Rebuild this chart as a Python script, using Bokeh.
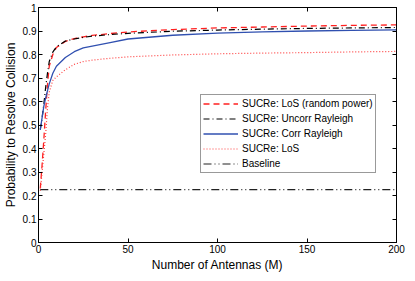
from bokeh.plotting import figure
from bokeh.models import LinearAxis, FixedTicker, Range1d, Legend, LegendItem
from bokeh.embed import file_html
from bokeh.resources import INLINE

# ---- data ----
M = [1, 2, 3, 4, 5, 6, 8, 10, 15, 20, 25, 30, 40, 50, 75, 100, 125, 150, 175, 200]
los_random_power = [0.23, 0.33, 0.44, 0.56, 0.67, 0.75, 0.80, 0.83, 0.856, 0.868, 0.875, 0.881,
                    0.889, 0.896, 0.906, 0.913, 0.917, 0.921, 0.924, 0.926]
uncorr_rayleigh = [0.48, 0.53, 0.59, 0.66, 0.72, 0.77, 0.81, 0.833, 0.857, 0.866, 0.873, 0.878,
                   0.885, 0.890, 0.899, 0.904, 0.908, 0.911, 0.913, 0.915]
corr_rayleigh = [0.48, 0.53, 0.58, 0.615, 0.645, 0.675, 0.72, 0.75, 0.787, 0.812, 0.828, 0.836,
                 0.851, 0.866, 0.882, 0.891, 0.896, 0.900, 0.903, 0.905]
los = [0.22, 0.30, 0.38, 0.46, 0.57, 0.64, 0.69, 0.705, 0.735, 0.758, 0.77, 0.776,
       0.784, 0.79, 0.798, 0.803, 0.806, 0.808, 0.811, 0.813]
baseline_value = 0.225
baseline = [baseline_value for _ in M]

series_names = ["SUCRe: LoS (random power)", "SUCRe: Uncorr Rayleigh", "SUCRe: Corr Rayleigh",
                "SUCRe: LoS", "Baseline"]
x_ticks = [0, 50, 100, 150, 200]
y_ticks = [0, 0.1, 0.2, 0.3, 0.4, 0.5, 0.6, 0.7, 0.8, 0.9, 1.0]
y_tick_labels = ["0", "0.1", "0.2", "0.3", "0.4", "0.5", "0.6", "0.7", "0.8", "0.9", "1"]

FONT = "Liberation Sans"

p = figure(frame_width=358, frame_height=235, output_backend="svg", toolbar_location=None,
           x_range=Range1d(0, 200), y_range=Range1d(0, 1),
           min_border_left=0, min_border_right=12, min_border_top=7, min_border_bottom=0)
p.grid.visible = False
p.outline_line_color = "black"
p.outline_line_width = 1
p.background_fill_color = "white"
p.border_fill_color = "white"

def style_axis(ax, labels=True):
    ax.major_tick_in = 4
    ax.major_tick_out = 0
    ax.minor_tick_line_color = None
    ax.axis_line_color = "black"
    ax.major_tick_line_color = "black"
    ax.major_label_text_font = FONT
    ax.axis_label_text_font = FONT
    ax.axis_label_text_font_style = "normal"
    ax.axis_label_text_color = "black"
    if labels:
        ax.major_label_text_color = "black"
        ax.major_label_text_font_size = "10px"
        ax.major_label_standoff = 2
        ax.axis_label_standoff = 2
        ax.axis_label_text_font_size = "12px"
    else:
        ax.major_label_text_color = None
        ax.major_label_text_font_size = "0px"
        ax.major_label_standoff = 0

p.xaxis.ticker = FixedTicker(ticks=x_ticks)
p.yaxis.ticker = FixedTicker(ticks=y_ticks)
p.yaxis.major_label_overrides = {t: s for t, s in zip(y_ticks, y_tick_labels)}
p.xaxis.axis_label = "Number of Antennas (M)"
p.yaxis.axis_label = "Probability to Resolve Collision"
style_axis(p.xaxis[0])
style_axis(p.yaxis[0])

top = LinearAxis(ticker=FixedTicker(ticks=x_ticks))
right = LinearAxis(ticker=FixedTicker(ticks=y_ticks))
style_axis(top, labels=False)
style_axis(right, labels=False)
p.add_layout(top, "above")
p.add_layout(right, "right")

r1 = p.line(M, los_random_power, line_color="#ff2020", line_width=1.3, line_dash="6 4")
r2 = p.line(M, uncorr_rayleigh, line_color="black", line_width=1.2, line_dash="6 3 1 3")
r3 = p.line(M, corr_rayleigh, line_color="#3050b0", line_width=1.3)
r4 = p.line(M, los, line_color="#ff4040", line_width=1.2, line_dash="1 2")
r5 = p.line(M, baseline, line_color="#222222", line_width=1.2, line_dash="8 3 1 3 1 3")

legend = Legend(items=[LegendItem(label=n, renderers=[r]) for n, r in
                       zip(series_names, [r1, r2, r3, r4, r5])],
                location=(162, 69))
legend.label_text_font = FONT
legend.label_text_font_size = "10px"
legend.label_text_color = "black"
legend.glyph_width = 35
legend.glyph_height = 13
legend.label_height = 13
legend.label_standoff = 4
legend.spacing = 2
legend.padding = 2
legend.margin = 0
legend.border_line_color = "#333333"
legend.border_line_width = 1
legend.background_fill_color = "white"
legend.background_fill_alpha = 1
p.add_layout(legend, "center")

open("out.html", "w").write(file_html(p, INLINE))
